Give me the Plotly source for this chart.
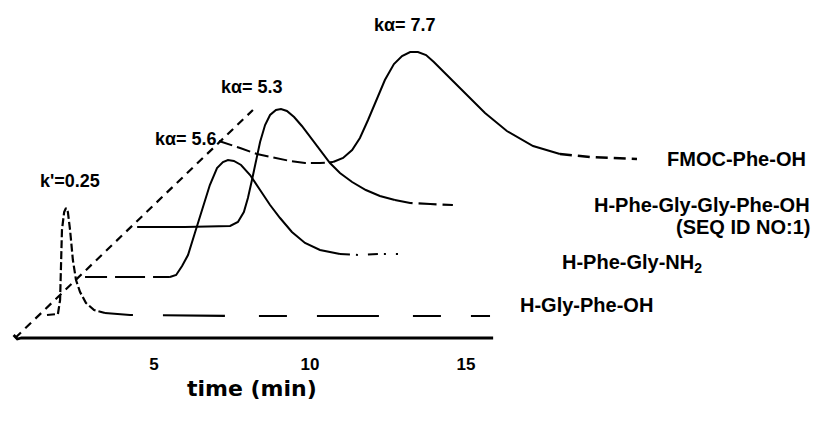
import plotly.graph_objects as go

# ---- data (time in min, detector response in arbitrary units incl. stacking offset) ----
gly_phe_t = [1.57, 1.92, 1.99, 2.02, 2.05, 2.12, 2.18, 2.24, 2.31, 2.40, 2.50, 2.63, 2.82, 3.08, 3.43, 4.23, 8.08, 12.88, 15.77]
gly_phe_y = [23, 24, 38, 78, 108, 126, 130, 126, 108, 78, 58, 46, 35, 28, 25, 23, 22, 22, 22]

phe_gly_nh2_t = [2.79, 4.23, 5.51, 5.71, 5.90, 6.09, 6.31, 6.54, 6.79, 7.02, 7.21, 7.37, 7.56, 7.79, 8.08, 8.40, 8.72, 9.04, 9.42, 9.84, 10.32, 10.96, 11.60, 12.24, 12.82]
phe_gly_nh2_y = [61, 61, 61, 63, 72, 83, 105, 128, 153, 170, 176, 178, 177, 173, 163, 148, 133, 120, 106, 95, 88, 84, 83, 84, 84]

tetra_t = [4.46, 5.99, 7.44, 7.69, 7.88, 8.01, 8.14, 8.27, 8.40, 8.56, 8.72, 8.91, 9.07, 9.26, 9.49, 9.74, 10.03, 10.32, 10.64, 10.96, 11.35, 11.79, 12.24, 12.72, 13.21, 13.85, 14.58]
tetra_y = [111, 111, 112, 116, 126, 140, 158, 178, 196, 213, 223, 228, 229, 227, 221, 212, 200, 188, 175, 165, 156, 148, 142, 138, 135, 134, 133]

fmoc_t = [7.08, 7.28, 7.76, 8.30, 8.88, 9.36, 9.84, 10.32, 10.74, 11.06, 11.35, 11.60, 11.86, 12.12, 12.40, 12.69, 12.95, 13.21, 13.46, 13.72, 13.97, 14.29, 14.68, 15.13, 15.61, 16.31, 17.15, 18.01, 18.97, 20.48]
fmoc_y = [197, 195, 190, 184, 180, 177, 175, 175, 176, 180, 188, 200, 218, 238, 258, 274, 282, 286, 286, 283, 276, 266, 254, 240, 225, 207, 192, 184, 181, 179]

depth_axis_t = [0.55, 8.17]
depth_axis_y = [0, 228]

time_axis_t = [0.50, 0.62, 0.75, 15.87]
time_axis_y = [3, -1, 0, 0]

time_ticks = [5, 10, 15]
k_labels = ["k'=0.25", "kα= 5.6", "kα= 5.3", "kα= 7.7"]
k_label_t = [2.31, 6.03, 8.14, 13.04]
k_label_y = [157, 199, 251, 313]
compounds = ["H-Gly-Phe-OH", "H-Phe-Gly-NH<sub>2</sub>", "H-Phe-Gly-Gly-Phe-OH", "FMOC-Phe-OH"]

fig = go.Figure()

def seg(t, y, i0, i1, dash, width=2.0):
    fig.add_trace(go.Scatter(x=t[i0:i1], y=y[i0:i1], mode="lines",
                             line=dict(color="black", width=width, dash=dash),
                             hoverinfo="skip", showlegend=False))

# depth (stacking) axis and time axis
seg(depth_axis_t, depth_axis_y, 0, 2, "8px,6px", 2.2)
seg(time_axis_t, time_axis_y, 0, 4, "solid", 2.8)

# H-Gly-Phe-OH
seg(gly_phe_t, gly_phe_y, 0, 15, "8px,3px", 2.2)
seg(gly_phe_t, gly_phe_y, 14, 19, "28px,30px,62px,34px", 2.2)
# H-Phe-Gly-NH2
seg(phe_gly_nh2_t, phe_gly_nh2_y, 0, 3, "22px,8px,30px,8px", 2.2)
seg(phe_gly_nh2_t, phe_gly_nh2_y, 2, 22, "solid", 2.0)
seg(phe_gly_nh2_t, phe_gly_nh2_y, 21, 25, "10px,6px,2px,10px", 2.0)
# H-Phe-Gly-Gly-Phe-OH
seg(tetra_t, tetra_y, 0, 24, "solid", 2.0)
seg(tetra_t, tetra_y, 23, 27, "18px,6px", 2.2)
# FMOC-Phe-OH
seg(fmoc_t, fmoc_y, 0, 9, "14px,5px", 2.0)
seg(fmoc_t, fmoc_y, 8, 28, "solid", 2.0)
seg(fmoc_t, fmoc_y, 27, 30, "12px,6px", 2.4)

font_main = dict(family="Liberation Sans, Arial, sans-serif", color="black", weight="bold")

for txt, tx, ty in zip(k_labels, k_label_t, k_label_y):
    fig.add_annotation(x=tx, y=ty, xref="x", yref="y", text=txt, showarrow=False,
                       xanchor="center", yanchor="middle", font=dict(size=18, **font_main))

comp_pos = [(16.67, 33, "left"), (18.01, 75, "left"), (26.09, 133, "right"), (21.38, 179, "left")]
for txt, (tx, ty, anc) in zip(compounds, comp_pos):
    fig.add_annotation(x=tx, y=ty, xref="x", yref="y", text=txt, showarrow=False,
                       xanchor=anc, yanchor="middle", font=dict(size=20, **font_main))
fig.add_annotation(x=26.09, y=111, xref="x", yref="y", text="(SEQ ID NO:1)", showarrow=False,
                   xanchor="right", yanchor="middle", font=dict(size=20, **font_main))

fig.add_annotation(x=8.14, y=-0.115, xref="x", yref="paper", text="time (min)", showarrow=False,
                   xanchor="center", yanchor="middle",
                   font=dict(family="DejaVu Sans, sans-serif", size=22, color="black", weight="bold"))

fig.update_layout(
    width=816, height=427,
    margin=dict(l=0, r=0, t=0, b=79),
    paper_bgcolor="white", plot_bgcolor="white",
    showlegend=False,
    xaxis=dict(range=[0.064, 26.218], tickvals=time_ticks, ticktext=[str(v) for v in time_ticks],
               ticks="", showgrid=False, zeroline=False, showline=False,
               tickfont=dict(size=17, **font_main), ticklabelstandoff=4),
    yaxis=dict(range=[-10, 338], visible=False, showgrid=False, zeroline=False),
)

fig.write_html("out.html", config={"displayModeBar": False},
               post_script="document.body.style.margin='0';")
